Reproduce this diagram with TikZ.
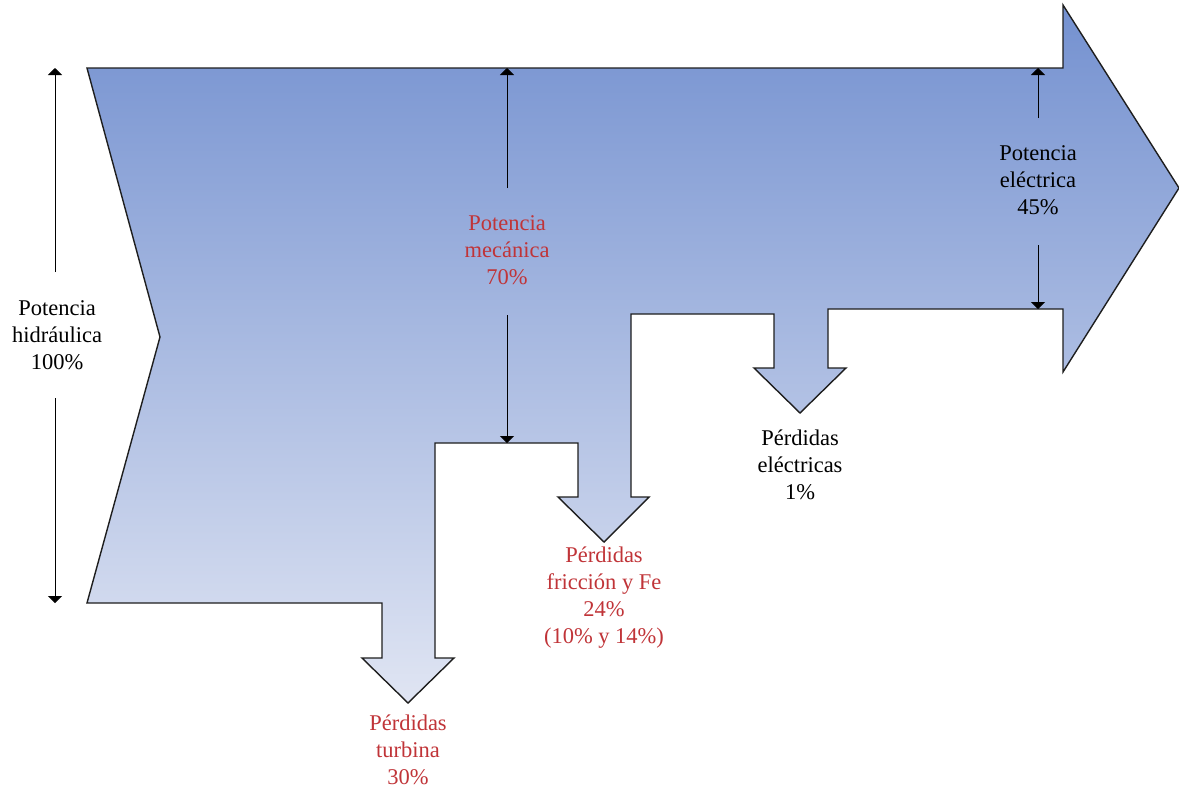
\documentclass[tikz,border=0pt]{standalone}
\usepackage{fontspec}
\setmainfont{Liberation Serif}
\usetikzlibrary{arrows.meta}
\definecolor{flowtop}{RGB}{116,145,208}
\definecolor{flowbot}{RGB}{224,229,243}
\definecolor{losstxt}{RGB}{192,52,56}
\definecolor{edge}{RGB}{30,30,30}
\tikzset{
  flow/.style={draw=edge, line width=1.4pt, line join=miter, top color=flowtop, bottom color=flowbot},
  dim/.style={draw=black, line width=0.9pt, -{Triangle[length=7pt,width=14pt]}},
  lbl/.style={align=center, font=\fontsize{22.5}{27}\selectfont, inner sep=0pt},
  loss/.style={lbl, text=losstxt},
}
\begin{document}
\begin{tikzpicture}[x=1pt, y=-1pt]
\useasboundingbox (0,0) rectangle (1179,788);

% Sankey band: hydraulic input splitting into the losses and the electrical output
\path[flow] (87,68) -- (1063,68) -- (1063,5) -- (1179,188) -- (1063,372) -- (1063,309)
  -- (828,309) -- (828,368) -- (846,368) -- (800,413) -- (754,368) -- (774,368) -- (774,314)
  -- (631,314) -- (631,497) -- (649,497) -- (604,542) -- (558,497) -- (578,497) -- (578,443)
  -- (435,443) -- (435,658) -- (454,658) -- (408,703) -- (362,658) -- (382,658) -- (382,603)
  -- (87,603) -- (160,337) -- cycle;

% Labels
\node[lbl]  (hid)  at (57,335)  {Potencia\\hidráulica\\100\%};
\node[loss] (mec)  at (507,250) {Potencia\\mecánica\\70\%};
\node[lbl]  (ele)  at (1038,180) {Potencia\\eléctrica\\45\%};
\node[lbl]  (pel)  at (800,465) {Pérdidas\\eléctricas\\1\%};
\node[loss] (pfr)  at (604,598) {Pérdidas\\fricción y Fe\\24\%\\(10\% y 14\%)};
\node[loss] (ptu)  at (408,750) {Pérdidas\\turbina\\30\%};

% Dimension arrow end points
\coordinate (hidA) at (55,272);  \coordinate (hidT) at (55,68);
\coordinate (hidB) at (55,398);  \coordinate (hidD) at (55,603);
\coordinate (mecA) at (507,188); \coordinate (mecT) at (507,68);
\coordinate (mecB) at (507,315); \coordinate (mecD) at (507,443);
\coordinate (eleA) at (1038,118); \coordinate (eleT) at (1038,68);
\coordinate (eleB) at (1038,245); \coordinate (eleD) at (1038,309);

\draw[dim] (hidA) -- (hidT);
\draw[dim] (hidB) -- (hidD);
\draw[dim] (mecA) -- (mecT);
\draw[dim] (mecB) -- (mecD);
\draw[dim] (eleA) -- (eleT);
\draw[dim] (eleB) -- (eleD);
\end{tikzpicture}
\end{document}
